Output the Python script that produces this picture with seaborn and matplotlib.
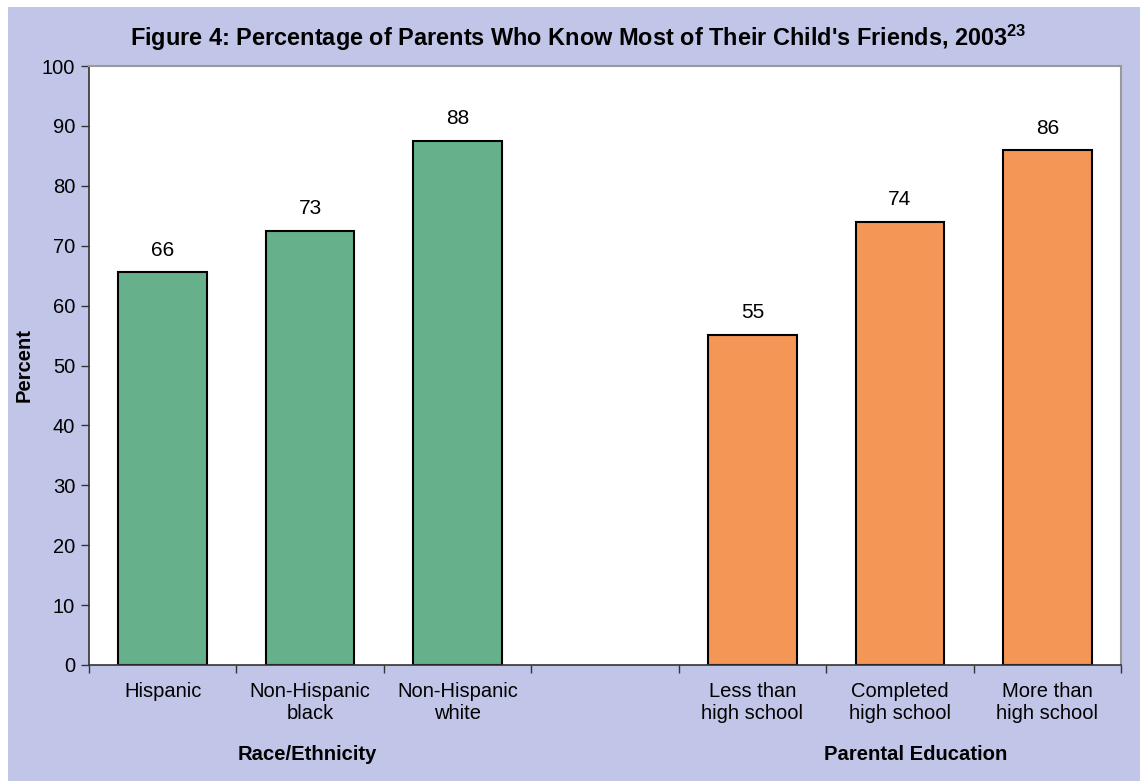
import matplotlib
matplotlib.use("Agg")
import matplotlib.pyplot as plt
import seaborn as sns
import pandas as pd
from matplotlib.patches import Rectangle

categories = ["Hispanic", "Non-Hispanic\nblack", "Non-Hispanic\nwhite",
              "Less than\nhigh school", "Completed\nhigh school", "More than\nhigh school"]
groups = ["Race/Ethnicity", "Race/Ethnicity", "Race/Ethnicity",
          "Parental Education", "Parental Education", "Parental Education"]
values = [65.6, 72.5, 87.5, 55.1, 74.0, 85.9]
value_labels = ["66", "73", "88", "55", "74", "86"]
slot_order = ["Hispanic", "Non-Hispanic\nblack", "Non-Hispanic\nwhite", " ",
              "Less than\nhigh school", "Completed\nhigh school", "More than\nhigh school"]
y_ticks = [0, 10, 20, 30, 40, 50, 60, 70, 80, 90, 100]

df = pd.DataFrame({"category": categories, "group": groups, "value": values})

sns.set_theme(style="white")
plt.rcParams["font.family"] = ["Liberation Sans", "DejaVu Sans"]
plt.rcParams["text.color"] = "black"
plt.rcParams["axes.labelcolor"] = "black"
plt.rcParams["xtick.color"] = "black"
plt.rcParams["ytick.color"] = "black"
plt.rcParams["mathtext.fontset"] = "custom"
plt.rcParams["mathtext.rm"] = "Liberation Sans"
plt.rcParams["mathtext.bf"] = "Liberation Sans:bold"

LAV = "#C1C6E9"
GREEN = "#66B18B"
ORANGE = "#F49656"

fig = plt.figure(figsize=(11.4, 7.81), dpi=100)
fig.patch.set_facecolor("white")
fig.add_artist(Rectangle((8 / 1140, 0), 1 - 8 / 1140, 1 - 7 / 781,
                         transform=fig.transFigure, facecolor=LAV,
                         edgecolor="none", zorder=-10))

ax = fig.add_axes([89 / 1140, 1 - 665 / 781, (1121 - 89) / 1140, (665 - 66) / 781])
ax.set_facecolor("white")

sns.barplot(data=df, x="category", y="value", hue="group", order=slot_order,
            palette={"Race/Ethnicity": GREEN, "Parental Education": ORANGE},
            dodge=False, width=0.6, edgecolor="black", linewidth=1.5,
            legend=False, saturation=1, ax=ax)

# labels on bars
bar_patches = [p for p in ax.patches if p.get_height() == p.get_height() and p.get_height() > 0]
bar_patches.sort(key=lambda p: p.get_x())
for p, lab in zip(bar_patches, value_labels):
    ax.annotate(lab, (p.get_x() + p.get_width() / 2, p.get_height()),
                xytext=(0, 9), textcoords="offset points",
                ha="center", va="bottom", fontsize=15, color="black")

ax.set_xlim(-0.5, 6.5)
ax.set_ylim(0, 100)
ax.set_yticks(y_ticks)
ax.set_yticklabels([str(t) for t in y_ticks], fontsize=14.5)
ax.set_xticks(range(len(slot_order)))
ax.set_xticklabels(slot_order, fontsize=14.5, linespacing=1.22)
ax.set_xticks([i - 0.5 for i in range(len(slot_order) + 1)], minor=True)
ax.tick_params(axis="x", which="major", length=0, pad=12)
ax.tick_params(axis="x", which="minor", length=6, width=1, color="#333333", direction="out", bottom=True)
ax.tick_params(axis="y", which="major", length=6, width=1, color="#333333", direction="out", left=True, pad=4)

ax.set_xlabel("")
ax.set_ylabel("Percent", fontsize=14.5, fontweight="bold")
ax.yaxis.set_label_coords(-55 / 1032, 0.5)

for s in ["left", "bottom"]:
    ax.spines[s].set_color("#333333")
    ax.spines[s].set_linewidth(1.2)
for s in ["top", "right"]:
    ax.spines[s].set_color("#999999")
    ax.spines[s].set_linewidth(1.5)
    ax.spines[s].set_visible(True)

fig.text(578 / 1140, 1 - 38 / 781,
         r"Figure 4: Percentage of Parents Who Know Most of Their Child's Friends, 2003$^{\mathbf{23}}$",
         ha="center", va="center", fontsize=16.9, fontweight="bold")
fig.text(307 / 1140, 1 - 754 / 781, "Race/Ethnicity", ha="center", va="center",
         fontsize=14.6, fontweight="bold")
fig.text(916 / 1140, 1 - 754 / 781, "Parental Education", ha="center", va="center",
         fontsize=14.6, fontweight="bold")

fig.savefig("out.png", dpi=100, facecolor=fig.get_facecolor())
